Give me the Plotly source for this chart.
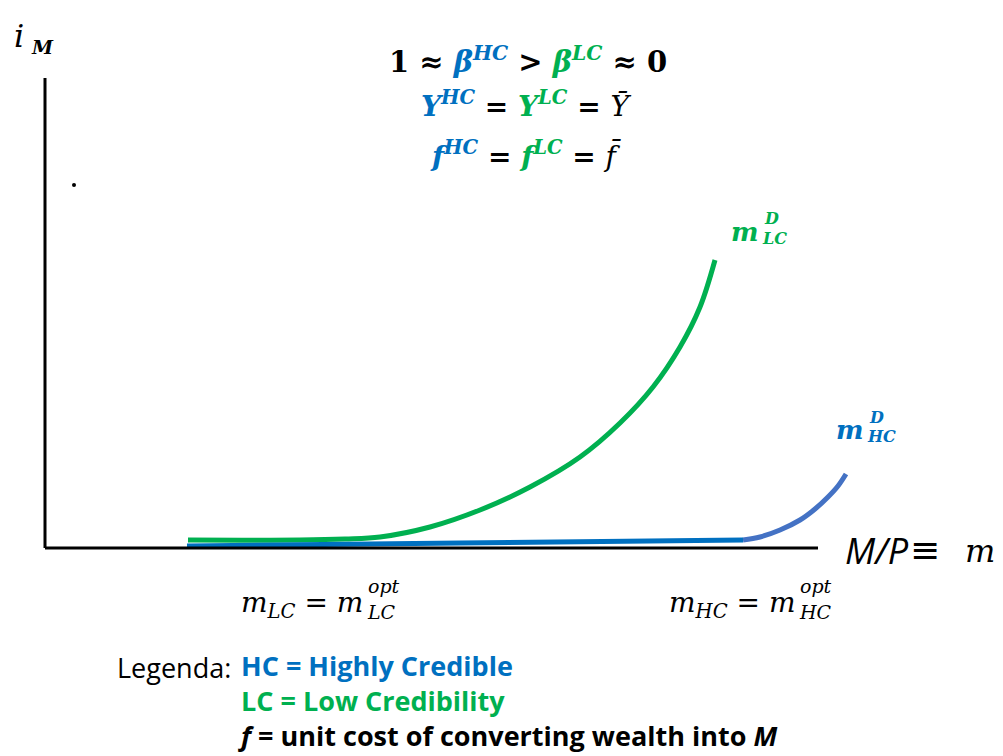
import plotly.graph_objects as go

# ---- data (conceptual units: m on x, i_M on y) ----
lc_m = [1.43, 2.55, 3.00, 3.35, 3.85, 4.35, 4.85, 5.35, 5.75, 6.08, 6.35, 6.55, 6.70]
lc_i = [0.08, 0.08, 0.09, 0.11, 0.21, 0.38, 0.61, 0.91, 1.25, 1.61, 2.01, 2.41, 2.88]

hc_flat_m = [1.42, 4.15, 6.98]
hc_flat_i = [0.02, 0.05, 0.08]

hc_curve_m = [6.98, 7.15, 7.35, 7.55, 7.70, 7.83, 7.93, 8.01]
hc_curve_i = [0.08, 0.11, 0.18, 0.28, 0.39, 0.51, 0.62, 0.74]

dot_m = [0.29]
dot_i = [3.63]

BLUE = "#0070C0"
BLUE2 = "#4472C4"
GREEN = "#00B050"
W, H = 1003, 756
SERIF = "DejaVu Serif"
SANS = "Open Sans"

fig = go.Figure()
fig.add_trace(go.Scatter(x=lc_m, y=lc_i, mode="lines", line=dict(color=GREEN, width=5, shape="spline"), hoverinfo="skip"))
fig.add_trace(go.Scatter(x=hc_curve_m, y=hc_curve_i, mode="lines", line=dict(color=BLUE2, width=5, shape="spline"), hoverinfo="skip"))
fig.add_trace(go.Scatter(x=hc_flat_m, y=hc_flat_i, mode="lines", line=dict(color=BLUE, width=5, shape="spline"), hoverinfo="skip"))
fig.add_trace(go.Scatter(x=dot_m, y=dot_i, mode="markers", marker=dict(color="black", size=4), hoverinfo="skip"))

# axes
fig.add_shape(type="line", x0=0, y0=0, x1=0, y1=4.70, line=dict(color="black", width=3))
fig.add_shape(type="line", x0=0, y0=0, x1=7.73, y1=0, line=dict(color="black", width=3))


def ann(text, px, py, size, color="black", family=SERIF, xa="left", ya="middle"):
    fig.add_annotation(text=text, x=px / W, y=1 - py / H, xref="paper", yref="paper",
                       showarrow=False, xanchor=xa, yanchor=ya, align="left",
                       font=dict(size=size, color=color, family=family))


def sp(t, c):
    return f"<span style='color:{c}'>{t}</span>"

# y-axis label
ann("<i>i</i>", 12, 36, 32, xa="left")
ann("<b><i>M</i></b>", 29, 47, 19, xa="left")

# conditions
ann("<b>1 ≈ " + sp("<i>β</i>", BLUE) + "<sup>" + sp("<i>HC</i>", BLUE) + "</sup> > "
    + sp("<i>β</i>", GREEN) + "<sup>" + sp("<i>LC</i>", GREEN) + "</sup> ≈ 0</b>", 528, 60, 29, xa="center")
ann("<b>" + sp("<i>Y</i>", BLUE) + "<sup>" + sp("<i>HC</i>", BLUE) + "</sup> = "
    + sp("<i>Y</i>", GREEN) + "<sup>" + sp("<i>LC</i>", GREEN) + "</sup> = </b><i>Ȳ</i>", 526, 105, 28, xa="center")
ann("<b>" + sp("<i>f</i>", BLUE) + "<sup>" + sp("<i>HC</i>", BLUE) + "</sup> = "
    + sp("<i>f</i>", GREEN) + "<sup>" + sp("<i>LC</i>", GREEN) + "</sup> = </b><i>f̄</i>", 526, 155, 28, xa="center")

# curve labels
ann("<b><i>m</i></b>", 761, 232, 26, GREEN, xa="right")
ann("<b><i>D</i></b>", 762, 218, 16, GREEN)
ann("<b><i>LC</i></b>", 760, 238, 16, GREEN)
ann("<b><i>m</i></b>", 866, 430, 26, BLUE, xa="right")
ann("<b><i>D</i></b>", 867, 417, 16, BLUE)
ann("<b><i>HC</i></b>", 865, 436, 16, BLUE)

# x-axis label
ann("<i>M/P</i>", 843, 550, 36, family=SANS)
ann("≡", 908, 549, 36, family="DejaVu Sans")
ann("<i>m</i>", 963, 551, 32)

# optimal quantities
ann("<i>m</i><sub><i>LC</i></sub> = <i>m</i>", 365, 604, 28, xa="right")
ann("<i>opt</i>", 366, 586, 19)
ann("<i>LC</i>", 365, 612, 19)
ann("<i>m</i><sub><i>HC</i></sub> = <i>m</i>", 797, 604, 28, xa="right")
ann("<i>opt</i>", 798, 586, 19)
ann("<i>HC</i>", 797, 612, 19)

# legend text
ann("Legenda:", 233, 667, 27, family=SANS, xa="right")
ann("<b>" + sp("HC = Highly Credible", BLUE) + "<br>" + sp("LC = Low Credibility", GREEN)
    + "<br><i>f</i> = unit cost of converting wealth into <i>M</i></b>",
    236, 756, 27, family=SANS, ya="bottom")

fig.update_layout(
    width=W, height=H, margin=dict(l=0, r=0, t=0, b=0),
    paper_bgcolor="white", plot_bgcolor="white", showlegend=False,
    xaxis=dict(range=[-0.45, 9.58], visible=False, fixedrange=True),
    yaxis=dict(range=[-2.08, 5.48], visible=False, fixedrange=True),
)
fig.write_html("out.html", config={"displayModeBar": False},
               post_script="document.body.style.margin='0';document.body.style.overflow='hidden';")
